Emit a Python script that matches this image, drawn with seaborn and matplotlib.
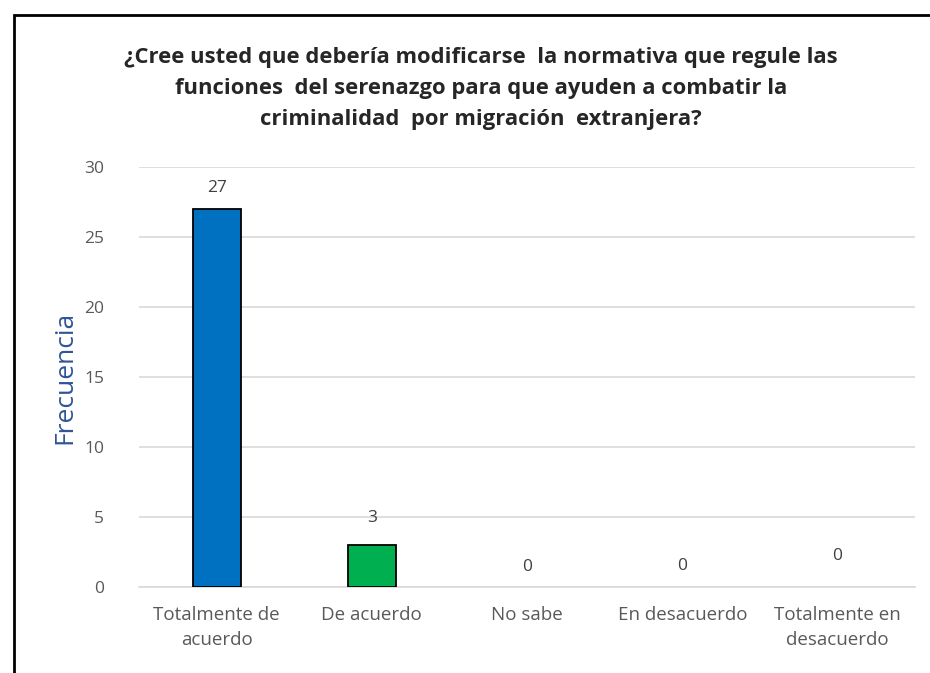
import matplotlib
matplotlib.use("Agg")
import matplotlib.pyplot as plt
import seaborn as sns
import pandas as pd
from matplotlib.patches import Rectangle

categories = ["Totalmente de\nacuerdo", "De acuerdo", "No sabe", "En desacuerdo", "Totalmente en\ndesacuerdo"]
values = [27, 3, 0, 0, 0]
colors = ["#0070C0", "#00B050", "#A5A5A5", "#FFC000", "#5B9BD5"]
label_offsets = [1.5, 1.9, 1.4, 1.5, 2.2]
title = "¿Cree usted que debería modificarse  la normativa que regule las\nfunciones  del serenazgo para que ayuden a combatir la\ncriminalidad  por migración  extranjera?"
yticks = [0, 5, 10, 15, 20, 25, 30]

sns.set_theme(style="white")
plt.rcParams['font.family'] = ['Open Sans', 'DejaVu Sans']

df = pd.DataFrame({"cat": categories, "val": values})

fig = plt.figure(figsize=(9.3, 6.73), dpi=100)
ax = fig.add_axes([0.1495, 0.1278, 0.8345, 0.6241])

sns.barplot(data=df, x="cat", y="val", hue="cat", palette=colors, legend=False,
            saturation=1, width=0.31, edgecolor="black", linewidth=1.3, ax=ax, zorder=3)
for p, v in zip(ax.patches, values):
    if v == 0:
        p.set_linewidth(0)

ax.set_ylim(0, 30)
ax.set_xlim(-0.5, 4.5)
ax.set_yticks(yticks)
ax.yaxis.grid(True, color="#D9D9D9", linewidth=1.2, zorder=0)
ax.set_axisbelow(True)
for s in ["top", "right", "left"]:
    ax.spines[s].set_visible(False)
ax.spines["bottom"].set_color("#D9D9D9")
ax.spines["bottom"].set_linewidth(1.2)
ax.tick_params(axis="both", length=0, colors="#595959")
ax.tick_params(axis="y", pad=25, labelsize=12.5)
ax.tick_params(axis="x", pad=14, labelsize=13.5)
for t in ax.get_xticklabels():
    t.set_linespacing(1.5)
ax.set_xlabel("")
ax.set_ylabel("Frecuencia", color="#2F5597", fontsize=19)
ax.yaxis.set_label_coords(-0.079, 0.5)

for i, (v, off) in enumerate(zip(values, label_offsets)):
    ax.text(i, v + off, str(v), ha="center", va="center", fontsize=12.5, color="#404040")

fig.text(0.517, 0.868, title, ha="center", va="center", fontsize=15.8, fontweight="bold",
         color="#262626", linespacing=1.62)

fig.patches.append(Rectangle((14/930, -0.05), 1.1, 1 - 15/673 + 0.05, transform=fig.transFigure,
                             fill=False, edgecolor="black", linewidth=2))

fig.savefig("out.png", dpi=100)
